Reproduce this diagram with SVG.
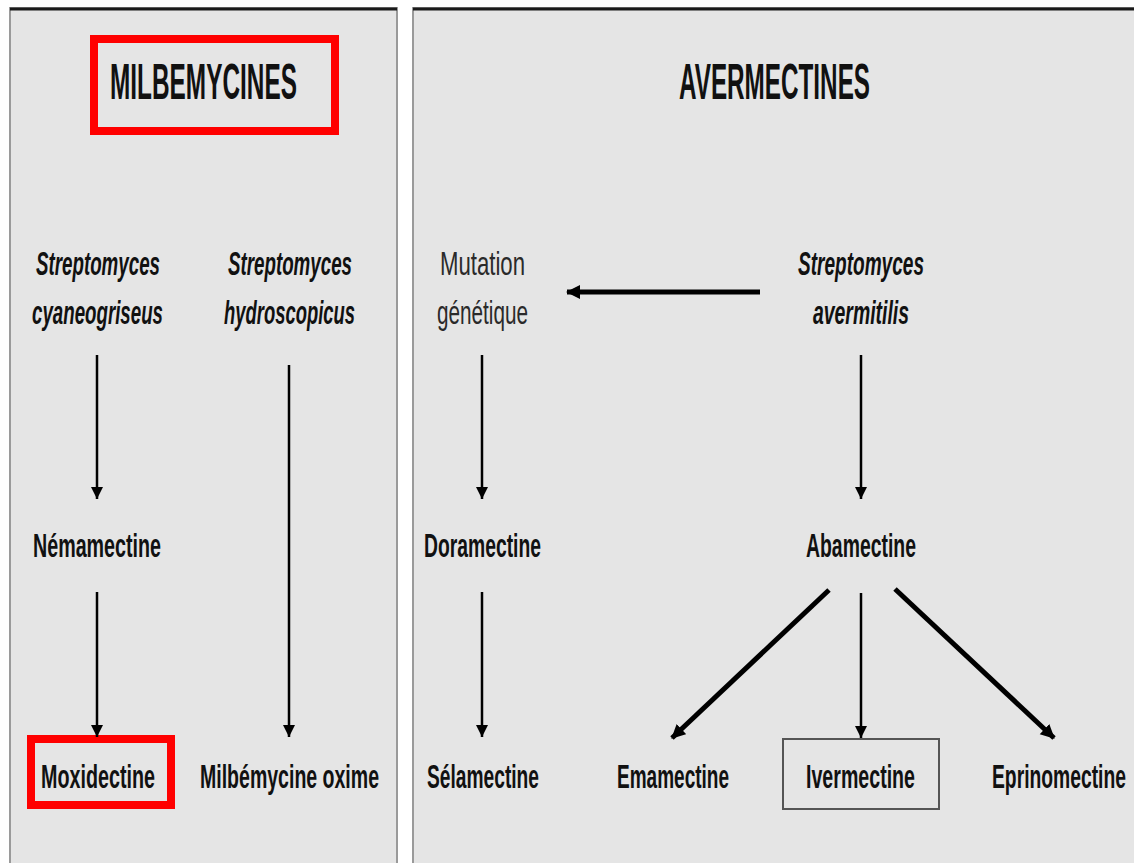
<svg xmlns="http://www.w3.org/2000/svg" width="1134" height="863" viewBox="0 0 1134 863">
<defs>
<style>
.panel{fill:#e5e5e5;stroke:#9a9a9a;stroke-width:2}
.top{stroke:#1a1a1a;stroke-width:3}
.t{font-family:"Liberation Sans Narrow","Liberation Sans",Arial,sans-serif;font-weight:bold;fill:#111;text-anchor:middle;font-size:33px}
.ti{font-style:italic}
.title{font-size:50px;font-weight:bold}
.reg{font-weight:normal;fill:#2a2a2a}
.red{fill:none;stroke:#ff0000;stroke-width:8}
.box{fill:none;stroke:#555;stroke-width:2}
.a{stroke:#000;stroke-width:2.5;fill:none;marker-end:url(#ah)}
.ab{stroke:#000;stroke-width:5;fill:none;marker-end:url(#ahb)}
</style>
<marker id="ah" markerUnits="userSpaceOnUse" markerWidth="14" markerHeight="16" refX="12" refY="6" orient="auto">
<path d="M0,0 L12,6 L0,12 Z" fill="#000"/>
</marker>
<marker id="ahb" markerUnits="userSpaceOnUse" markerWidth="16" markerHeight="16" refX="13" refY="7" orient="auto">
<path d="M0,0 L14,7 L0,14 Z" fill="#000"/>
</marker>
</defs>
<rect width="1134" height="863" fill="#ffffff"/>
<g id="panel-milbemycines">
<rect class="panel" x="10" y="8" width="387" height="880"/>
<line class="top" x1="10" y1="9" x2="397" y2="9"/>
</g>
<g id="panel-avermectines">
<rect class="panel" x="413" y="8" width="740" height="880"/>
<line class="top" x1="413" y1="9" x2="1134" y2="9"/>
</g>
<g id="milbemycines">
<rect class="red" x="94" y="39" width="241" height="92"/>
<text class="t title" x="203.5" y="99" textLength="187" lengthAdjust="spacingAndGlyphs">MILBEMYCINES</text>
</g>
<g id="avermectines">
<text class="t title" x="774.5" y="99" textLength="191" lengthAdjust="spacingAndGlyphs">AVERMECTINES</text>
</g>
<g id="s-cyaneogriseus">
<text class="t ti" x="98" y="275" textLength="124" lengthAdjust="spacingAndGlyphs">Streptomyces</text>
<text class="t ti" x="97.5" y="324" textLength="131" lengthAdjust="spacingAndGlyphs">cyaneogriseus</text>
</g>
<g id="s-hydroscopicus">
<text class="t ti" x="290" y="275" textLength="124" lengthAdjust="spacingAndGlyphs">Streptomyces</text>
<text class="t ti" x="289.5" y="324" textLength="131" lengthAdjust="spacingAndGlyphs">hydroscopicus</text>
</g>
<g id="nemamectine">
<text class="t" x="97" y="557" textLength="128" lengthAdjust="spacingAndGlyphs">Némamectine</text>
</g>
<g id="moxidectine">
<rect class="red" x="31" y="739" width="140" height="66"/>
<text class="t" x="98" y="788" textLength="114" lengthAdjust="spacingAndGlyphs">Moxidectine</text>
</g>
<g id="milbemycine-oxime">
<text class="t" x="289.5" y="788" textLength="179" lengthAdjust="spacingAndGlyphs">Milbémycine oxime</text>
</g>
<g id="mutation">
<text class="t reg" x="482.5" y="275" textLength="85" lengthAdjust="spacingAndGlyphs">Mutation</text>
<text class="t reg" x="482.5" y="324" textLength="91" lengthAdjust="spacingAndGlyphs">génétique</text>
</g>
<g id="s-avermitilis">
<text class="t ti" x="861" y="275" textLength="126" lengthAdjust="spacingAndGlyphs">Streptomyces</text>
<text class="t ti" x="861" y="324" textLength="96" lengthAdjust="spacingAndGlyphs">avermitilis</text>
</g>
<g id="doramectine">
<text class="t" x="482.5" y="557" textLength="117" lengthAdjust="spacingAndGlyphs">Doramectine</text>
</g>
<g id="abamectine">
<text class="t" x="861" y="557" textLength="110" lengthAdjust="spacingAndGlyphs">Abamectine</text>
</g>
<g id="selamectine">
<text class="t" x="483" y="788" textLength="112" lengthAdjust="spacingAndGlyphs">Sélamectine</text>
</g>
<g id="emamectine">
<text class="t" x="673" y="788" textLength="112" lengthAdjust="spacingAndGlyphs">Emamectine</text>
</g>
<g id="ivermectine">
<rect class="box" x="783" y="739" width="156" height="70"/>
<text class="t" x="860.5" y="788" textLength="109" lengthAdjust="spacingAndGlyphs">Ivermectine</text>
</g>
<g id="eprinomectine">
<text class="t" x="1059" y="788" textLength="134" lengthAdjust="spacingAndGlyphs">Eprinomectine</text>
</g>
<g id="connectors">
<line class="a" x1="97" y1="355" x2="97" y2="499"/>
<line class="a" x1="97" y1="592" x2="97" y2="737"/>
<line class="a" x1="289" y1="365" x2="289" y2="737"/>
<line class="ab" x1="760" y1="292" x2="567" y2="292"/>
<line class="a" x1="482" y1="355" x2="482" y2="499"/>
<line class="a" x1="482" y1="592" x2="482" y2="737"/>
<line class="a" x1="861" y1="355" x2="861" y2="499"/>
<line class="a" x1="861" y1="593" x2="861" y2="738"/>
<line class="ab" x1="829" y1="590" x2="672" y2="738"/>
<line class="ab" x1="895" y1="589" x2="1054" y2="738"/>
</g>
</svg>
